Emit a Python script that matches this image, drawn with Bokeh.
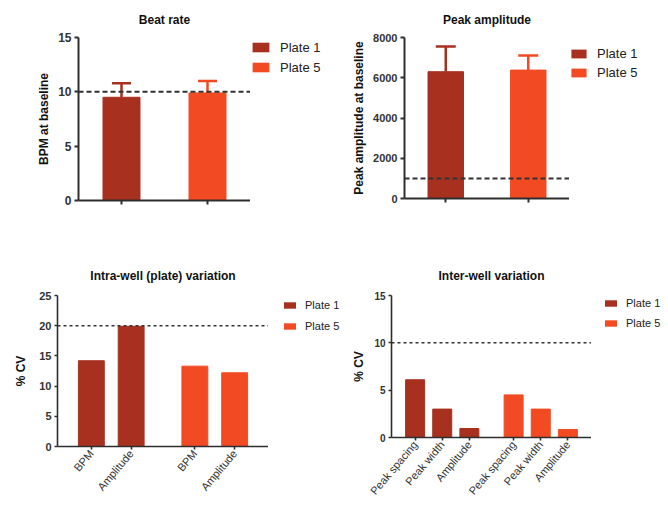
from bokeh.plotting import figure
from bokeh.models import FactorRange, Range1d, Span, Legend, LegendItem, FixedTicker
from bokeh.layouts import column, row
from bokeh.embed import file_html
from bokeh.resources import INLINE

# ---- data ----
plates = ["Plate 1", "Plate 5"]
beat_rate = [9.5, 9.9]
beat_rate_err = [1.3, 1.1]
beat_threshold = 10
peak_amp = [6300, 6380]
peak_amp_err = [1250, 720]
amp_threshold = 1000

intra_metrics = ["BPM", "Amplitude"]
intra_p1 = [14.2, 19.9]
intra_p5 = [13.3, 12.2]
intra_threshold = 20

inter_metrics = ["Peak spacing", "Peak width", "Amplitude"]
inter_p1 = [6.1, 3.0, 0.95]
inter_p5 = [4.5, 3.0, 0.85]
inter_threshold = 10

C1 = "#A8301F"
C5 = "#F24B23"
COLORS = [C1, C5]
FONT = "Liberation Sans"
AX = "#2e2e2e"


def base_fig(w_frame, h_frame, left, top, bottom, x_range, y_range, title):
    p = figure(frame_width=w_frame, frame_height=h_frame, x_range=x_range,
               y_range=y_range, output_backend="svg", toolbar_location=None,
               title=title, min_border_left=left, min_border_right=0,
               min_border_top=top, min_border_bottom=bottom)
    p.outline_line_color = None
    p.xgrid.grid_line_color = None
    p.ygrid.grid_line_color = None
    for ax in (p.xaxis[0], p.yaxis[0]):
        ax.axis_line_color = AX
        ax.major_tick_line_color = AX
        ax.major_tick_in = 0
        ax.minor_tick_line_color = None
        ax.major_label_text_font = FONT
        ax.major_label_text_font_style = "bold"
        ax.major_label_text_color = "#333333"
        ax.axis_label_text_font = FONT
        ax.axis_label_text_font_style = "bold"
        ax.axis_label_text_color = "#111111"
    p.yaxis.major_label_standoff = 3
    p.title.text_font = FONT
    p.title.text_font_style = "bold"
    p.title.text_font_size = "12px"
    p.title.align = "center"
    p.title.text_color = "#111111"
    return p


def legend_fig(width, height, loc, gw, gh, fs, pitch, standoff):
    lf = figure(width=width, height=height, x_range=FactorRange(*plates),
                y_range=Range1d(0, 1), output_backend="svg", toolbar_location=None,
                x_axis_type=None, y_axis_type=None, min_border=0)
    lf.outline_line_color = None
    lf.xgrid.grid_line_color = None
    lf.ygrid.grid_line_color = None
    rs = [lf.vbar(x=[pl], top=[0], width=0, fill_color=c, line_color=None)
          for pl, c in zip(plates, COLORS)]
    leg = Legend(items=[LegendItem(label=pl, renderers=[r]) for pl, r in zip(plates, rs)],
                 location=loc, glyph_width=gw, glyph_height=gh, label_height=pitch,
                 label_text_font=FONT, label_text_font_size=fs,
                 label_text_color="#222222", spacing=0, padding=0, margin=0,
                 border_line_color=None, background_fill_alpha=0,
                 label_standoff=standoff)
    lf.add_layout(leg, "center")
    return lf


def error_bars(p, xs, vals, errs, cap):
    tops = [v + e for v, e in zip(vals, errs)]
    p.segment(x0=xs, x1=xs, y0=vals, y1=tops, line_color=COLORS, line_width=2.5)
    p.dash(x=xs, y=tops, size=cap, line_color=COLORS, line_width=2.5)


# ---- top-left: Beat rate ----
p1 = base_fig(172, 163, 78, 37, 40, FactorRange(*plates, range_padding=0),
              Range1d(0, 15), "Beat rate")
p1.title.standoff = 21
p1.yaxis.axis_label = "BPM at baseline"
p1.yaxis.axis_label_standoff = 4
p1.yaxis.axis_label_text_font_size = "12px"
p1.yaxis.major_label_text_font_size = "12px"
p1.yaxis.ticker = FixedTicker(ticks=[0, 5, 10, 15])
p1.xaxis.major_label_text_color = None
for ax in (p1.xaxis[0], p1.yaxis[0]):
    ax.axis_line_width = 2
    ax.major_tick_line_width = 2
    ax.major_tick_out = 4
p1.vbar(x=plates, top=beat_rate, width=0.43, color=COLORS)
error_bars(p1, plates, beat_rate, beat_rate_err, 19)
p1.add_layout(Span(location=beat_threshold, dimension="width", line_color="#333333",
                   line_dash="5 3", line_width=2))
l1 = legend_fig(84, 240, (0, 121), 21, 12, "13px", 20, 9)

# ---- top-right: Peak amplitude ----
p2 = base_fig(165, 161, 70, 37, 42, FactorRange(*plates, range_padding=0),
              Range1d(0, 8000), "Peak amplitude")
p2.title.standoff = 21
p2.title.offset = 4
p2.yaxis.axis_label = "Peak amplitude at baseline"
p2.yaxis.axis_label_standoff = 4
p2.yaxis.axis_label_text_font_size = "12px"
p2.yaxis.major_label_text_font_size = "11px"
p2.yaxis.ticker = FixedTicker(ticks=[0, 2000, 4000, 6000, 8000])
p2.xaxis.major_label_text_color = None
for ax in (p2.xaxis[0], p2.yaxis[0]):
    ax.axis_line_width = 2
    ax.major_tick_line_width = 2
    ax.major_tick_out = 4
p2.vbar(x=plates, top=peak_amp, width=0.43, color=COLORS)
error_bars(p2, plates, peak_amp, peak_amp_err, 20)
p2.add_layout(Span(location=amp_threshold, dimension="width", line_color="#333333",
                   line_dash="5 3", line_width=2))
l2 = legend_fig(83, 240, (0, 116), 19, 11, "13px", 19, 9)

# ---- bottom-left: Intra-well variation ----
f3 = [(pl, m) for pl in plates for m in intra_metrics]
p3 = base_fig(211, 151, 57, 55, 51,
              FactorRange(*f3, group_padding=0.6, range_padding=0.7 / 4.6),
              Range1d(0, 25), "Intra-well (plate) variation")
p3.title.standoff = 25
p3.title.offset = 7
p3.yaxis.axis_label = "% CV"
p3.yaxis.axis_label_standoff = 8
p3.yaxis.axis_label_text_font_size = "12px"
p3.yaxis.major_label_text_font_size = "11px"
p3.yaxis.ticker = FixedTicker(ticks=[0, 5, 10, 15, 20, 25])
p3.xaxis.major_label_orientation = 0.87
p3.xaxis.major_label_text_font_style = "normal"
p3.xaxis.major_label_text_font_size = "11px"
p3.xaxis.major_label_standoff = 2
p3.xaxis.group_text_font_size = "0px"
p3.xaxis.group_text_color = None
p3.xaxis.separator_line_color = None
for ax in (p3.xaxis[0], p3.yaxis[0]):
    ax.axis_line_width = 1.6
    ax.major_tick_line_width = 1.6
    ax.major_tick_out = 3
for pl, vals, c in zip(plates, [intra_p1, intra_p5], COLORS):
    p3.vbar(x=[(pl, m) for m in intra_metrics], top=vals, width=0.65, color=c)
p3.add_layout(Span(location=intra_threshold, dimension="width", line_color="#333333",
                   line_dash="3 3", line_width=1.5))
l3 = legend_fig(72, 257, (14, 95), 15, 8, "11px", 21, 8)

# ---- bottom-right: Inter-well variation ----
f4 = [(pl, m) for pl in plates for m in inter_metrics]
p4 = base_fig(200, 142, 51, 53, 64,
              FactorRange(*f4, group_padding=0.63, range_padding=0.74 / 6.63),
              Range1d(0, 15), "Inter-well variation")
p4.title.standoff = 25
p4.yaxis.axis_label = "% CV"
p4.yaxis.axis_label_standoff = 5
p4.yaxis.axis_label_text_font_size = "12px"
p4.yaxis.major_label_text_font_size = "10px"
p4.yaxis.ticker = FixedTicker(ticks=[0, 5, 10, 15])
p4.xaxis.major_label_orientation = 0.87
p4.xaxis.major_label_text_font_style = "normal"
p4.xaxis.major_label_text_font_size = "11px"
p4.xaxis.major_label_standoff = 2
p4.xaxis.group_text_font_size = "0px"
p4.xaxis.group_text_color = None
p4.xaxis.separator_line_color = None
for ax in (p4.xaxis[0], p4.yaxis[0]):
    ax.axis_line_width = 1.6
    ax.major_tick_line_width = 1.6
    ax.major_tick_out = 3
for pl, vals, c in zip(plates, [inter_p1, inter_p5], COLORS):
    p4.vbar(x=[(pl, m) for m in inter_metrics], top=vals, width=0.7, color=c)
p4.add_layout(Span(location=inter_threshold, dimension="width", line_color="#333333",
                   line_dash="3 3", line_width=1.5))
l4 = legend_fig(72, 257, (12, 98), 15, 8, "11px", 20, 8)

layout = column(row(p1, l1, p2, l2, spacing=0), row(p3, l3, p4, l4, spacing=0), spacing=0)
open("out.html", "w").write(file_html(layout, INLINE))
